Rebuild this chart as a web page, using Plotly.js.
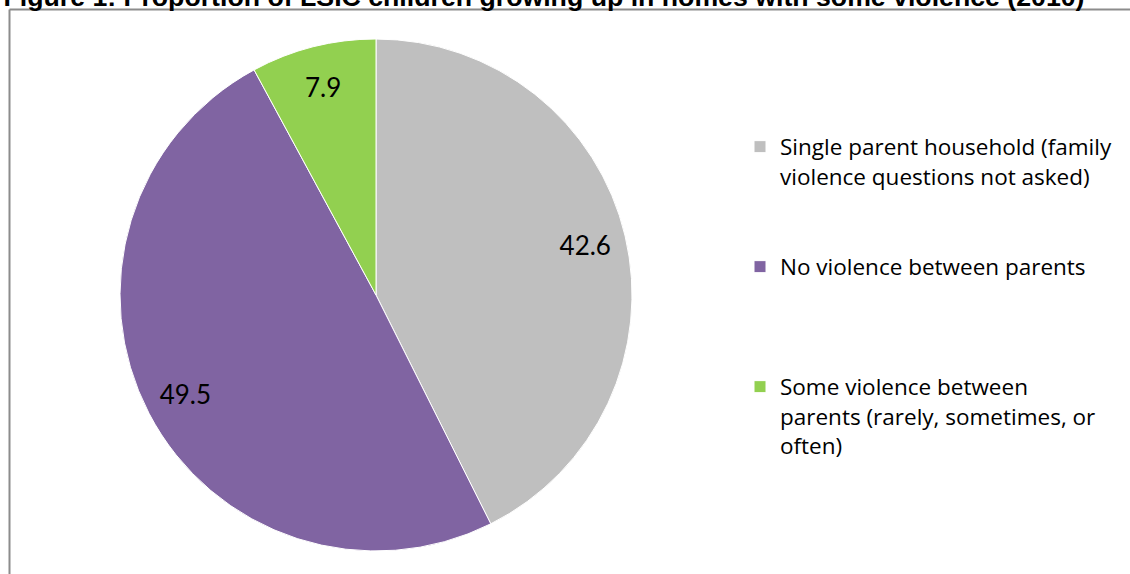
<!DOCTYPE html>
<html>
<head>
<meta charset="utf-8">
<script src="https://cdn.plot.ly/plotly-3.0.1.min.js"></script>
<style>html,body{margin:0;padding:0;background:#fff;}#chart{width:1130px;height:574px;}</style>
</head>
<body>
<div id="chart"></div>
<script>
const categories = [
  "Single parent household (family<br>violence questions not asked)",
  "No violence between parents",
  "Some violence between<br>parents (rarely, sometimes, or<br>often)"
];
const values = [42.6, 49.5, 7.9];
const labelsText = ["42.6", "49.5", "7.9"];
const colors = ["#BFBFBF", "#8064A2", "#92D050"];
const titleText = "Figure 1: Proportion of LSIC children growing up in homes with some violence (2010)";

// legend spacing padding (extra blank lines after each entry)
const pad = ["<br> <br> ", "<br> <br> <br> ", ""];
const legendNames = categories.map((c, i) => c + pad[i]);

const W = 1130, H = 574;
const dom = { x: [120 / W, 632 / W], y: [(H - 551) / H, (H - 39) / H] };

const pieTrace = {
  type: "pie",
  labels: legendNames,
  values: values,
  textinfo: "none",
  sort: false,
  direction: "clockwise",
  rotation: 0,
  marker: { colors: colors, line: { color: "#ffffff", width: 1 } },
  domain: dom
};

// transparent ring on top that carries the data labels further out (as in the original)
const labelTrace = {
  type: "pie",
  labels: legendNames,
  values: values,
  text: labelsText,
  textinfo: "text",
  textposition: "inside",
  insidetextorientation: "horizontal",
  hole: 0.68,
  sort: false,
  direction: "clockwise",
  rotation: 0,
  showlegend: false,
  marker: { colors: ["rgba(0,0,0,0)", "rgba(0,0,0,0)", "rgba(0,0,0,0)"], line: { width: 0 } },
  textfont: { family: "Lato, 'Open Sans', sans-serif", size: 26, color: "#000000" },
  domain: dom
};

const layout = {
  width: W, height: H,
  margin: { l: 0, r: 0, t: 0, b: 0 },
  paper_bgcolor: "#ffffff",
  showlegend: true,
  title: {
    text: "<b>" + titleText + "</b>",
    font: { family: "'Liberation Sans', Arial, sans-serif", size: 26.7, color: "#000000" },
    xref: "container", yref: "container",
    x: 544 / W, xanchor: "center",
    y: 1 - 6 / H, yanchor: "bottom"
  },
  legend: {
    x: 740 / W, xanchor: "left",
    y: 1 - 125.5 / H, yanchor: "top",
    valign: "top",
    font: { family: "'Open Sans', Lato, sans-serif", size: 22.5, color: "#000000" },
    bgcolor: "rgba(0,0,0,0)",
    borderwidth: 0,
    traceorder: "normal"
  },
  shapes: [
    { type: "line", xref: "paper", yref: "paper", x0: 9.5 / W, x1: 1, y0: 1 - 9.5 / H, y1: 1 - 9.5 / H, line: { color: "#8C8C8C", width: 2 } },
    { type: "line", xref: "paper", yref: "paper", x0: 9.5 / W, x1: 9.5 / W, y0: 0, y1: 1 - 9.5 / H, line: { color: "#8C8C8C", width: 2 } }
  ]
};

Plotly.newPlot("chart", [pieTrace, labelTrace], layout, { displayModeBar: false, staticPlot: true });
</script>
</body>
</html>
